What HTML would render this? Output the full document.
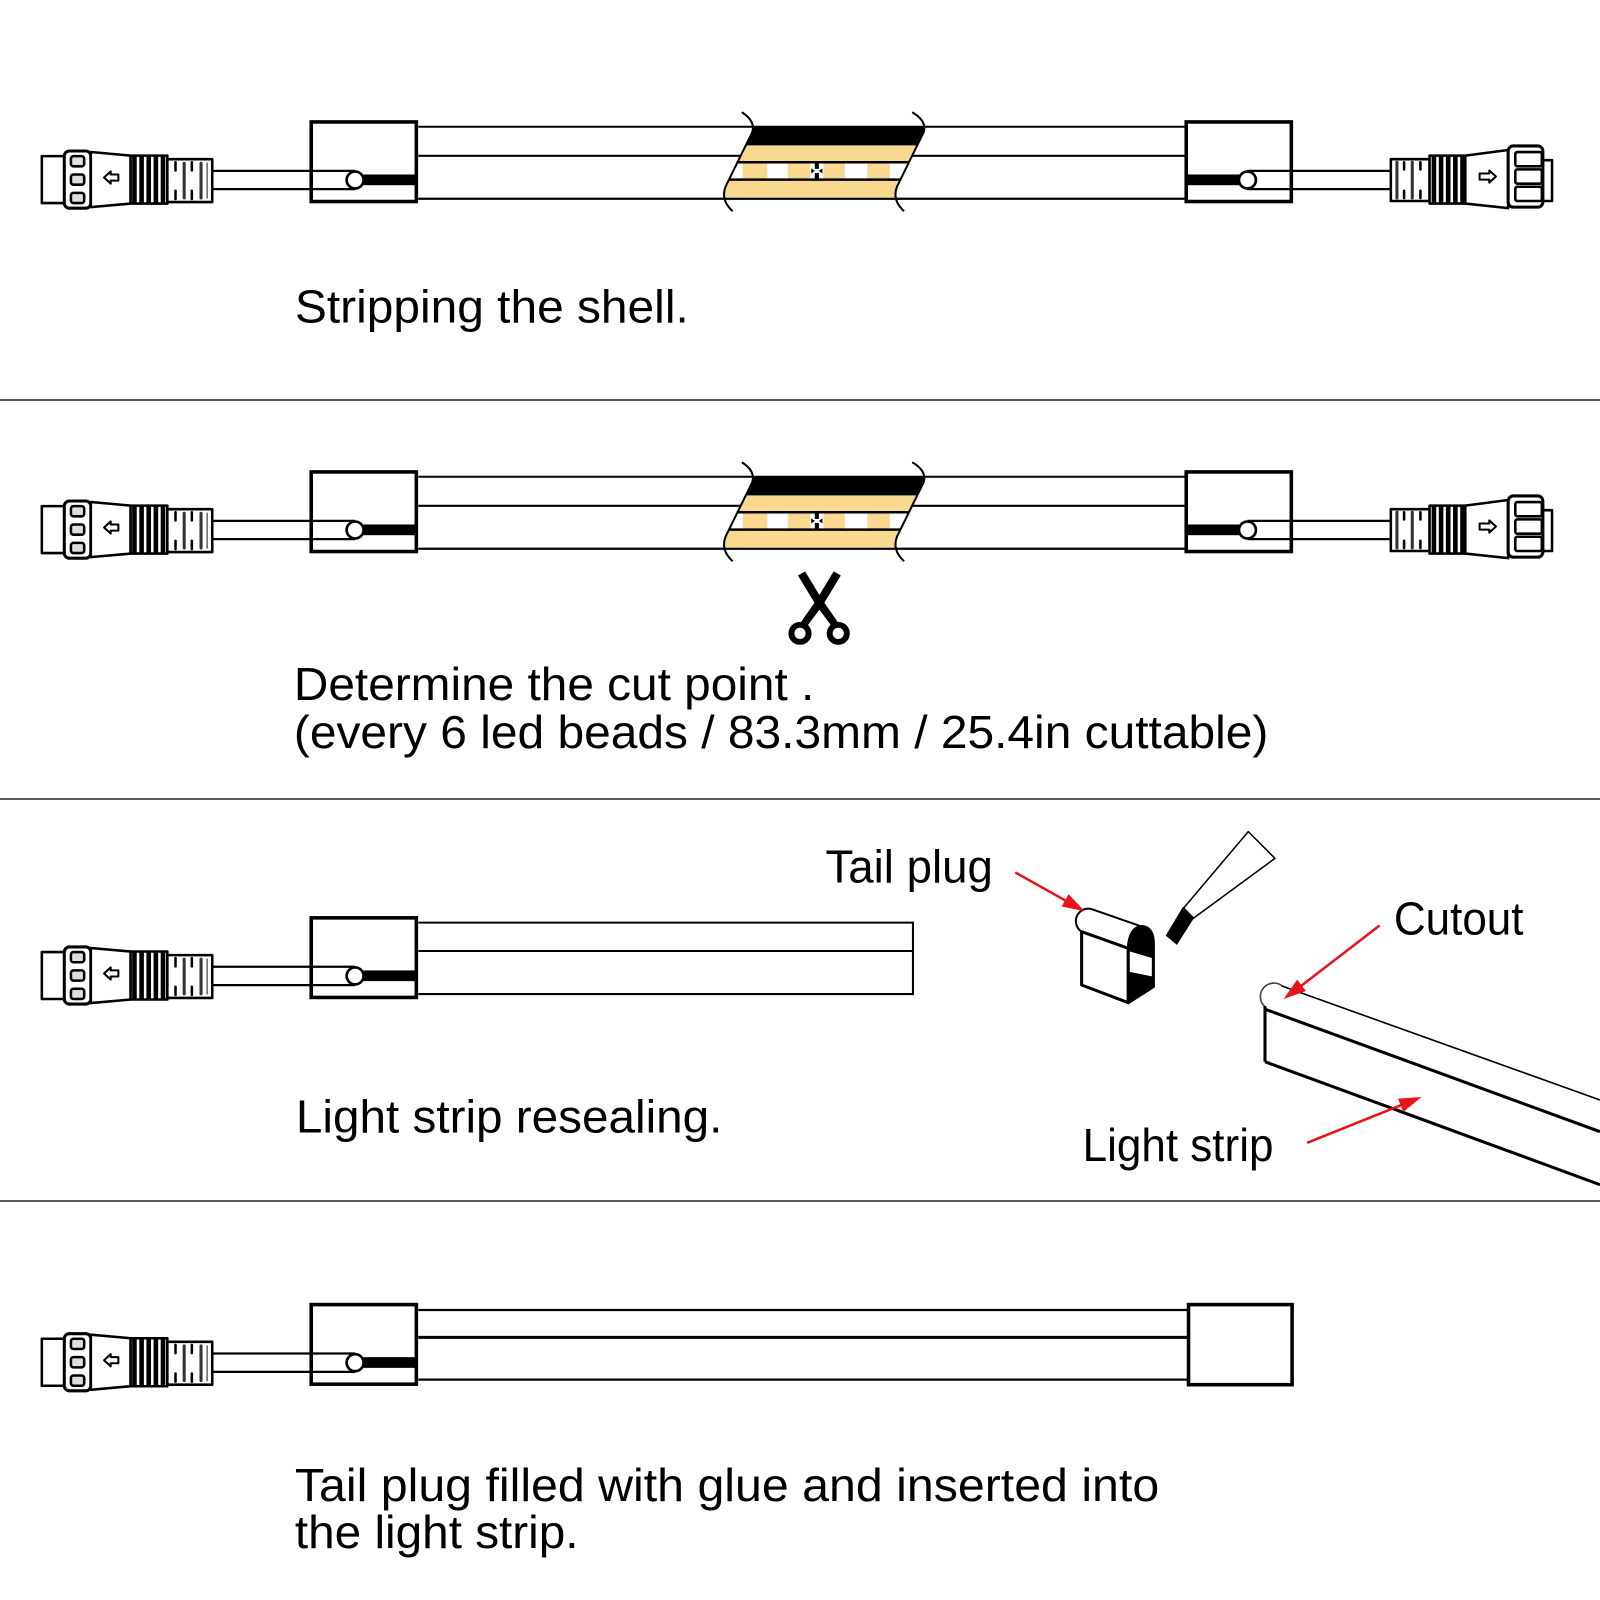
<!DOCTYPE html>
<html>
<head>
<meta charset="utf-8">
<style>
html,body{margin:0;padding:0;background:#fff;}
svg{display:block;}
text{font-family:"Liberation Sans",Arial,Helvetica,sans-serif;fill:#000;}
</style>
</head>
<body>
<svg width="1600" height="1600" viewBox="0 0 1568 1568" xmlns="http://www.w3.org/2000/svg">
<defs>
  <!-- left connector (section-1 coordinates) -->
  <g id="conn" stroke="#000" stroke-width="2.5" stroke-linejoin="round">
    <rect x="41" y="153" width="23" height="46" fill="#fff"/>
    <rect x="63" y="148" width="26" height="56" rx="5" fill="#fff" stroke-width="3"/>
    <rect x="69.5" y="153" width="13" height="10" rx="2.5" fill="#ddd"/>
    <rect x="69.5" y="171" width="13" height="10" rx="2.5" fill="#ddd"/>
    <rect x="69.5" y="189" width="13" height="10" rx="2.5" fill="#ddd"/>
    <polygon points="89,149 128,152.5 128,199.5 89,203" fill="#fff"/>
    <polygon points="102,174 108.5,168 108.5,171 116,171 116,177 108.5,177 108.5,180" fill="#fff" stroke-width="2"/>
    <rect x="128" y="152.5" width="36" height="47" fill="#fff"/>
    <g stroke="none" fill="#000">
      <rect x="129.5" y="152.5" width="4.5" height="47"/>
      <rect x="136.5" y="152.5" width="4.5" height="47"/>
      <rect x="143.5" y="152.5" width="4.5" height="47"/>
      <rect x="150.5" y="152.5" width="4.5" height="47"/>
      <rect x="157.5" y="152.5" width="4.5" height="47"/>
    </g>
    <rect x="164" y="156" width="44" height="42" fill="#fff"/>
    <g stroke-width="2.5" stroke-linecap="round" fill="none">
      <line x1="172" y1="159" x2="172" y2="167"/>
      <line x1="172" y1="187" x2="172" y2="195"/>
      <line x1="188" y1="159" x2="188" y2="167"/>
      <line x1="188" y1="187" x2="188" y2="195"/>
      <line x1="180.5" y1="160" x2="180.5" y2="194" stroke="#333" stroke-width="3"/>
      <line x1="197" y1="160" x2="197" y2="194" stroke="#333" stroke-width="3"/>
      <line x1="203" y1="160" x2="203" y2="194" stroke="#666" stroke-width="1.5"/>
    </g>
  </g>
  <!-- right connector -->
  <g id="connR" stroke="#000" stroke-width="2.5" stroke-linejoin="round">
    <rect x="1363" y="156" width="38" height="41" fill="#fff"/>
    <g stroke-width="2.5" stroke-linecap="round" fill="none">
      <line x1="1369" y1="159" x2="1369" y2="194" stroke="#333" stroke-width="3"/>
      <line x1="1376" y1="159" x2="1376" y2="166"/>
      <line x1="1376" y1="187" x2="1376" y2="194"/>
      <line x1="1384" y1="159" x2="1384" y2="194" stroke="#333" stroke-width="3"/>
      <line x1="1392" y1="159" x2="1392" y2="166"/>
      <line x1="1392" y1="187" x2="1392" y2="194"/>
    </g>
    <rect x="1401" y="152.5" width="35" height="47" fill="#fff"/>
    <g stroke="none" fill="#000">
      <rect x="1403" y="152.5" width="4.5" height="47"/>
      <rect x="1410" y="152.5" width="4.5" height="47"/>
      <rect x="1417" y="152.5" width="4.5" height="47"/>
      <rect x="1424" y="152.5" width="4.5" height="47"/>
      <rect x="1431" y="152.5" width="4" height="47"/>
    </g>
    <polygon points="1436,152.5 1478,147 1478,204 1436,199.5" fill="#fff"/>
    <polygon points="1466,173 1459.5,167 1459.5,170 1450,170 1450,176 1459.5,176 1459.5,179" fill="#fff" stroke-width="2"/>
    <rect x="1512" y="157" width="9" height="40" fill="#fff"/>
    <rect x="1478" y="143" width="34" height="60" rx="5" fill="#fff" stroke-width="3"/>
    <rect x="1485" y="149" width="26" height="14" rx="2" fill="#fff"/>
    <rect x="1485" y="166" width="26" height="14" rx="2" fill="#fff"/>
    <rect x="1485" y="183" width="26" height="14" rx="2" fill="#fff"/>
  </g>
  <!-- left box assembly -->
  <g id="boxL">
    <line x1="207.5" y1="167.4" x2="348" y2="167.4" stroke="#000" stroke-width="2.2"/>
    <line x1="207.5" y1="185.4" x2="348" y2="185.4" stroke="#000" stroke-width="2.2"/>
    <rect x="305" y="119.5" width="103" height="78" fill="none" stroke="#000" stroke-width="3.5"/>
    <rect x="356" y="171" width="52" height="10.5" fill="#000"/>
    <circle cx="348" cy="176.4" r="8.3" fill="#fff" stroke="#000" stroke-width="2.6"/>
  </g>
  <!-- cut region -->
  <g id="cut">
    <polygon points="739,124 906,124 905,130 879,183 877,194 709,194 711,183 737,130" fill="#f8d98f"/>
    <polygon points="739,124 906,124 905,130 899.1,142.5 730.9,142.5 737,130" fill="#000"/>
    <polygon points="722.8,159 890.8,159 882.5,176 714.5,176" fill="#fff"/>
    <g fill="#f8d98f">
      <rect x="728" y="160" width="24" height="15"/>
      <rect x="772" y="160" width="22" height="15"/>
      <rect x="807" y="160" width="21" height="15"/>
      <rect x="850" y="160" width="22" height="15"/>
    </g>
    <line x1="722" y1="159" x2="891" y2="159" stroke="#000" stroke-width="2.5"/>
    <line x1="714" y1="176" x2="883" y2="176" stroke="#000" stroke-width="2.5"/>
    <rect x="798.5" y="159" width="4" height="6.5" fill="#000"/>
    <rect x="798.5" y="169.5" width="4" height="6.5" fill="#000"/>
    <polygon points="795,165 798.5,167.5 795,170" fill="#000"/>
    <polygon points="806,165 802.5,167.5 806,170" fill="#000"/>
    <line x1="410" y1="194.8" x2="1161" y2="194.8" stroke="#000" stroke-width="2"/>
    <path d="M727,110 Q741,119 737,130 L711,183 Q706,196 718,207" fill="none" stroke="#000" stroke-width="2"/>
    <path d="M894,110 Q909,119 905,130 L879,183 Q874,196 886,207" fill="none" stroke="#000" stroke-width="2"/>
  </g>
  <!-- full section 1/2 drawing -->
  <g id="sec">
    <line x1="410" y1="124.2" x2="1161" y2="124.2" stroke="#000" stroke-width="2"/>
    <line x1="410" y1="152.7" x2="1161" y2="152.7" stroke="#000" stroke-width="2"/>
    <line x1="410" y1="194.8" x2="1161" y2="194.8" stroke="#000" stroke-width="2"/>
    <use href="#cut"/>
    <use href="#conn"/>
    <use href="#boxL"/>
    <g transform="translate(1570.5,0) scale(-1,1)"><use href="#boxL"/></g>
    <use href="#connR"/>
  </g>
  <g id="scis">
    <polygon points="782,564 789,560 806,588 822,611 816,615 799,592" fill="#000"/>
    <polygon points="824,564 817,560 800,588 784,611 790,615 807,592" fill="#000"/>
    <circle cx="784" cy="620.7" r="8.4" stroke="#000" stroke-width="5.8" fill="#fff"/>
    <circle cx="821.5" cy="620.7" r="8.4" stroke="#000" stroke-width="5.8" fill="#fff"/>
  </g>
</defs>

<rect x="0" y="0" width="1568" height="1568" fill="#fff"/>

<!-- Section 1 -->
<use href="#sec"/>
<text x="289" y="316" font-size="45.5" textLength="386" lengthAdjust="spacingAndGlyphs">Stripping the shell.</text>
<line x1="0" y1="392" x2="1568" y2="392" stroke="#222" stroke-width="1.5"/>

<!-- Section 2 -->
<g transform="translate(0,343)"><use href="#sec"/></g>
<use href="#scis"/>
<text x="288" y="686" font-size="45.5" textLength="510" lengthAdjust="spacingAndGlyphs">Determine the cut point .</text>
<text x="288" y="733" font-size="45.5" textLength="955" lengthAdjust="spacingAndGlyphs">(every 6 led beads / 83.3mm / 25.4in cuttable)</text>
<line x1="0" y1="783" x2="1568" y2="783" stroke="#222" stroke-width="1.5"/>

<!-- Section 3 -->
<g transform="translate(0,780)">
  <use href="#conn"/>
  <use href="#boxL"/>
</g>
<g stroke="#000" stroke-width="2" fill="none">
  <line x1="410" y1="904.2" x2="894.7" y2="904.2"/>
  <line x1="410" y1="932" x2="894.7" y2="932"/>
  <line x1="410" y1="974.2" x2="894.7" y2="974.2"/>
  <line x1="894.7" y1="903.2" x2="894.7" y2="975.2"/>
</g>
<text x="809" y="865" font-size="45.5" textLength="164" lengthAdjust="spacingAndGlyphs">Tail plug</text>
<text x="1366" y="916" font-size="45.5" textLength="127" lengthAdjust="spacingAndGlyphs">Cutout</text>
<text x="290" y="1110" font-size="45.5" textLength="418" lengthAdjust="spacingAndGlyphs">Light strip resealing.</text>
<text x="1061" y="1138" font-size="45.5" textLength="187" lengthAdjust="spacingAndGlyphs">Light strip</text>

<!-- tail plug -->
<g stroke="#000" stroke-linejoin="round">
  <path d="M1060,913 A12.2,12.2 0 0 1 1070,891 L1119,908 L1105.7,929.4 Z" fill="#fff" stroke-width="2"/>
  <polygon points="1060,913 1105.7,929.4 1105.7,982.6 1060,965.3" fill="#fff" stroke-width="3"/>
  <path d="M1105.7,929.4 Q1107,909 1119,908 Q1130.3,909 1130.3,925 L1130.3,966.9 L1105.7,982.6 Z" fill="#fff" stroke-width="3"/>
  <path d="M1105.7,932 L1105.7,929.4 Q1107,909 1119,908 Q1130.3,909 1130.3,925 L1130.3,939.2 Z" fill="#000" stroke="none"/>
  <polygon points="1105.7,952.2 1130.3,957.1 1130.3,966.9 1105.7,982.6" fill="#000" stroke="none"/>
</g>
<!-- glue tube -->
<polygon points="1159.6,890.3 1223.3,815 1249.5,841.2 1169.4,900" fill="#fff" stroke="#000" stroke-width="1.5" stroke-linejoin="round"/>
<polygon points="1143.4,916.7 1153.2,924.9 1169.4,899.4 1159.6,889.6" fill="#000" stroke="#000" stroke-width="1.5"/>

<!-- light strip 3D -->
<g stroke="#000" fill="none">
  <path d="M1240,987 A11.5,11.5 0 1 1 1257,966.5" stroke="#444" stroke-width="1.6"/>
  <line x1="1256" y1="966.2" x2="1568" y2="1078" stroke-width="1.6"/>
  <line x1="1239.7" y1="986" x2="1239.7" y2="1040.5" stroke-width="3"/>
  <line x1="1239.7" y1="989" x2="1568" y2="1109" stroke-width="3"/>
  <line x1="1239.7" y1="1040.5" x2="1568" y2="1161" stroke-width="3"/>
</g>

<!-- red arrows -->
<g stroke="#e8141c" stroke-width="2.5" fill="#e8141c">
  <line x1="995" y1="855" x2="1045" y2="883"/>
  <polygon points="1063,893 1040.4,888.4 1047.2,876.2" stroke="none"/>
  <line x1="1352" y1="907" x2="1274" y2="967"/>
  <polygon points="1258,979 1271.2,960.0 1279.8,971.2" stroke="none"/>
  <line x1="1281" y1="1120" x2="1374" y2="1082.6"/>
  <polygon points="1393,1075 1375.2,1089.7 1370.0,1076.7" stroke="none"/>
</g>
<line x1="0" y1="1177" x2="1568" y2="1177" stroke="#222" stroke-width="1.5"/>

<!-- Section 4 -->
<g transform="translate(0,1159)">
  <use href="#conn"/>
  <use href="#boxL"/>
</g>
<g stroke="#000" fill="none">
  <line x1="410" y1="1283.8" x2="1164" y2="1283.8" stroke-width="2.2"/>
  <line x1="410" y1="1310.6" x2="1164" y2="1310.6" stroke-width="3"/>
  <line x1="410" y1="1352" x2="1164" y2="1352" stroke-width="2.2"/>
  <rect x="1164.75" y="1278.5" width="101.5" height="78.5" stroke-width="3.5"/>
</g>
<text x="289" y="1471" font-size="45.5" textLength="847" lengthAdjust="spacingAndGlyphs">Tail plug filled with glue and inserted into</text>
<text x="289" y="1517" font-size="45.5" textLength="278" lengthAdjust="spacingAndGlyphs">the light strip.</text>
</svg>
</body>
</html>
